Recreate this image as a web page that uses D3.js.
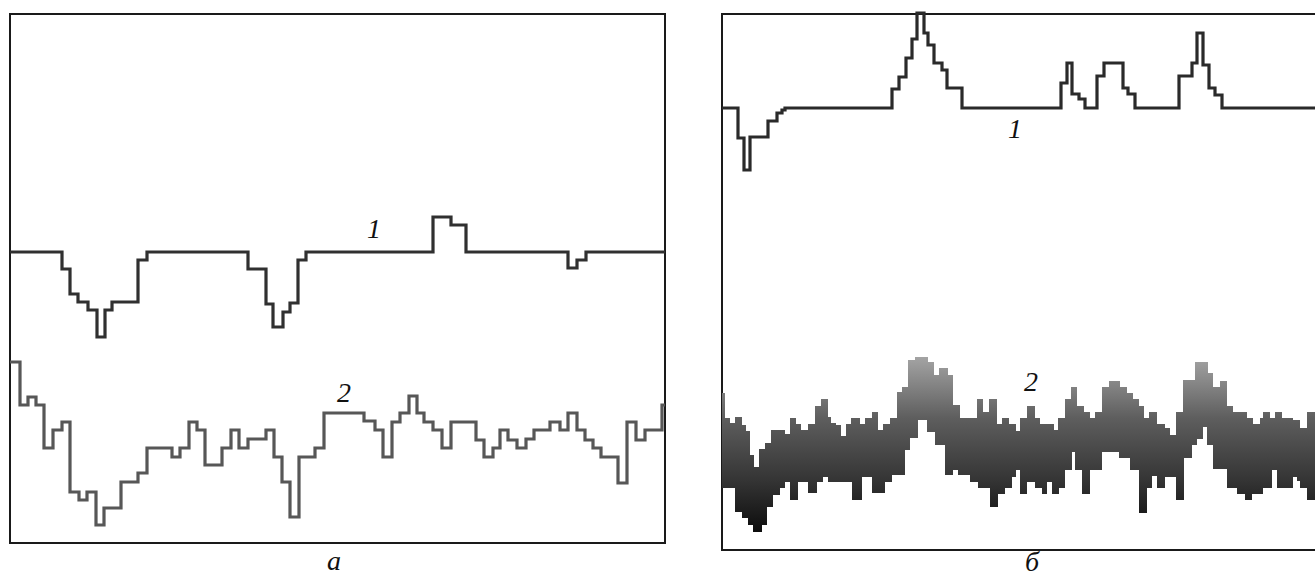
<!DOCTYPE html>
<html>
<head>
<meta charset="utf-8">
<script src="https://cdn.jsdelivr.net/npm/d3@7"></script>
<style>
  html, body { margin: 0; padding: 0; background: #fff; }
  svg { display: block; }
  text { font-family: "Liberation Serif", "Times New Roman", serif; font-style: italic; fill: #111; }
</style>
</head>
<body>
<script>
// ---- Panel a: two step traces (sample position, level) ----
const aTrace1 = [
  [0, 291], [52, 274], [60, 249], [68, 241], [78, 233], [87, 206], [95, 233], [102, 241],
  [128, 283], [137, 291], [238, 274], [256, 239], [263, 216], [273, 231], [280, 240],
  [288, 283], [296, 291], [423, 326], [441, 318], [456, 291], [558, 275], [567, 283],
  [576, 291], [655, 291]
];
const aTrace2 = [
  [0, 181], [10, 138], [18, 146], [26, 138], [34, 95], [43, 113], [52, 121], [60, 51],
  [69, 43], [77, 51], [86, 18], [94, 35], [111, 61], [128, 70], [137, 95], [162, 86],
  [170, 95], [179, 121], [187, 113], [195, 78], [212, 95], [221, 113], [229, 95],
  [238, 104], [256, 113], [264, 86], [272, 61], [280, 26], [289, 86], [305, 95],
  [314, 130], [354, 122], [365, 113], [373, 86], [382, 121], [390, 130], [399, 147],
  [407, 130], [414, 121], [423, 113], [432, 95], [441, 121], [466, 103], [474, 86],
  [483, 95], [490, 113], [498, 103], [507, 95], [516, 104], [524, 113], [540, 121],
  [550, 113], [558, 130], [567, 113], [575, 103], [583, 95], [591, 86], [608, 60],
  [617, 121], [626, 103], [635, 113], [652, 138], [655, 138]
];

// ---- Panel б: step trace and a filled band (upper / lower envelopes) ----
const bTrace1 = [
  [0, 442], [16, 412], [22, 380], [28, 413], [46, 429], [55, 437], [60, 440], [63, 442],
  [170, 461], [177, 473], [184, 492], [190, 511], [195, 537], [202, 517], [206, 505],
  [212, 487], [220, 480], [225, 462], [240, 442], [339, 467], [345, 487], [350, 456],
  [357, 451], [363, 442], [375, 474], [382, 487], [401, 462], [406, 456], [413, 442],
  [457, 474], [470, 487], [475, 517], [481, 485], [487, 462], [493, 455], [500, 442],
  [593, 442]
];
const bBandUpper = [
  [0, 157], [3, 132], [8, 127], [13, 133], [20, 125], [24, 119], [28, 95], [32, 83],
  [37, 101], [43, 107], [49, 120], [63, 116], [68, 132], [74, 126], [79, 120], [86, 126],
  [93, 144], [99, 151], [106, 133], [109, 127], [114, 125], [119, 114], [124, 126],
  [129, 132], [138, 126], [143, 132], [150, 138], [156, 120], [161, 126], [168, 132],
  [175, 158], [180, 163], [186, 190], [193, 193], [206, 188], [212, 175], [217, 182],
  [226, 175], [231, 145], [238, 132], [255, 151], [261, 138], [267, 151], [275, 126],
  [280, 132], [287, 126], [294, 119], [298, 132], [305, 144], [313, 132], [318, 126],
  [332, 120], [336, 132], [343, 151], [349, 163], [355, 144], [362, 138], [368, 132],
  [373, 138], [380, 163], [387, 169], [398, 163], [405, 157], [411, 151], [417, 144],
  [422, 132], [427, 138], [435, 126], [443, 122], [448, 115], [454, 138], [461, 170],
  [473, 188], [486, 177], [491, 163], [498, 169], [505, 144], [511, 138], [525, 132],
  [531, 126], [538, 132], [541, 138], [548, 132], [553, 138], [560, 132], [571, 130],
  [578, 122], [585, 138], [593, 138]
];
const bBandLower = [
  [0, 62], [13, 38], [20, 32], [26, 25], [31, 18], [40, 25], [45, 43], [51, 55],
  [58, 62], [63, 68], [68, 50], [76, 68], [86, 57], [95, 68], [101, 73], [106, 68],
  [130, 50], [140, 73], [150, 57], [163, 68], [170, 75], [183, 100], [188, 112],
  [196, 130], [205, 118], [213, 105], [223, 75], [231, 80], [236, 75], [248, 68],
  [256, 62], [268, 43], [276, 56], [283, 62], [290, 73], [294, 80], [298, 56],
  [305, 68], [313, 62], [320, 56], [325, 68], [330, 56], [337, 62], [343, 80],
  [350, 98], [353, 80], [360, 56], [368, 80], [380, 98], [397, 92], [408, 80],
  [417, 37], [425, 62], [430, 74], [435, 62], [443, 73], [454, 50], [462, 92],
  [470, 105], [475, 111], [481, 123], [485, 105], [491, 81], [505, 62], [515, 56],
  [523, 50], [530, 56], [541, 62], [550, 80], [555, 62], [571, 73], [575, 69],
  [578, 62], [585, 50], [593, 50]
];

// ---- Labels ----
const panelLabels = ["а", "б"];
const traceLabels = ["1", "2"];

const W = 1315, H = 578;
const svg = d3.select("body").append("svg").attr("width", W).attr("height", H);

// Scales for each panel
const xA = d3.scaleLinear().domain([0, 655]).range([10, 665]);
const yA = d3.scaleLinear().domain([0, 529]).range([543, 14]);
const xB = d3.scaleLinear().domain([0, 593]).range([722, 1315]);
const yB = d3.scaleLinear().domain([0, 536]).range([550, 14]);

const stepLine = (xs, ys) => d3.line()
  .x(d => xs(d[0])).y(d => ys(d[1]))
  .curve(d3.curveStepAfter);

// Frames
svg.append("rect")
  .attr("x", xA(0)).attr("y", yA(529))
  .attr("width", xA(655) - xA(0)).attr("height", yA(0) - yA(529))
  .attr("fill", "none").attr("stroke", "#1a1a1a").attr("stroke-width", 2);

svg.append("rect")
  .attr("x", xB(0)).attr("y", yB(536))
  .attr("width", xB(593) - xB(0) + 10).attr("height", yB(0) - yB(536))
  .attr("fill", "none").attr("stroke", "#1a1a1a").attr("stroke-width", 2);

// Panel a traces
svg.append("path").datum(aTrace1)
  .attr("d", stepLine(xA, yA))
  .attr("fill", "none").attr("stroke", "#303030").attr("stroke-width", 3.2)
  .attr("stroke-linejoin", "miter");

svg.append("path").datum(aTrace2)
  .attr("d", stepLine(xA, yA))
  .attr("fill", "none").attr("stroke", "#575757").attr("stroke-width", 3.2)
  .attr("stroke-linejoin", "miter");

// Panel б trace 1
svg.append("path").datum(bTrace1)
  .attr("d", stepLine(xB, yB))
  .attr("fill", "none").attr("stroke", "#2a2a2a").attr("stroke-width", 3.2)
  .attr("stroke-linejoin", "miter");

// Panel б band: merge breakpoints of both envelopes, look up step values
function stepValue(series, x) {
  let v = series[0][1];
  for (const p of series) { if (p[0] <= x) v = p[1]; else break; }
  return v;
}
const bandX = Array.from(new Set(bBandUpper.map(d => d[0]).concat(bBandLower.map(d => d[0])))).sort((a, b) => a - b);
const band = bandX.map(x => ({ x, hi: stepValue(bBandUpper, x), lo: stepValue(bBandLower, x) }));

const defs = svg.append("defs");
const grad = defs.append("linearGradient")
  .attr("id", "bandShade").attr("gradientUnits", "userSpaceOnUse")
  .attr("x1", 0).attr("x2", 0)
  .attr("y1", yB(195)).attr("y2", yB(15));
grad.append("stop").attr("offset", "0%").attr("stop-color", "#a6a6a6");
grad.append("stop").attr("offset", "35%").attr("stop-color", "#5e5e5e");
grad.append("stop").attr("offset", "70%").attr("stop-color", "#343434");
grad.append("stop").attr("offset", "100%").attr("stop-color", "#0a0a0a");

svg.append("path").datum(band)
  .attr("d", d3.area()
    .x(d => xB(d.x)).y0(d => yB(d.lo)).y1(d => yB(d.hi))
    .curve(d3.curveStepAfter))
  .attr("fill", "url(#bandShade)");

// Trace numbers
const fs = 28;
svg.append("text").attr("x", 374).attr("y", 238).attr("text-anchor", "middle").attr("font-size", fs).text(traceLabels[0]);
svg.append("text").attr("x", 344).attr("y", 402).attr("text-anchor", "middle").attr("font-size", fs).text(traceLabels[1]);
svg.append("text").attr("x", 1015).attr("y", 138).attr("text-anchor", "middle").attr("font-size", fs).text(traceLabels[0]);
svg.append("text").attr("x", 1031).attr("y", 391).attr("text-anchor", "middle").attr("font-size", fs).text(traceLabels[1]);

// Panel captions
svg.append("text").attr("x", 334).attr("y", 570).attr("text-anchor", "middle").attr("font-size", 28).text(panelLabels[0]);
svg.append("text").attr("x", 1032).attr("y", 571).attr("text-anchor", "middle").attr("font-size", 28).text(panelLabels[1]);
</script>
</body>
</html>
